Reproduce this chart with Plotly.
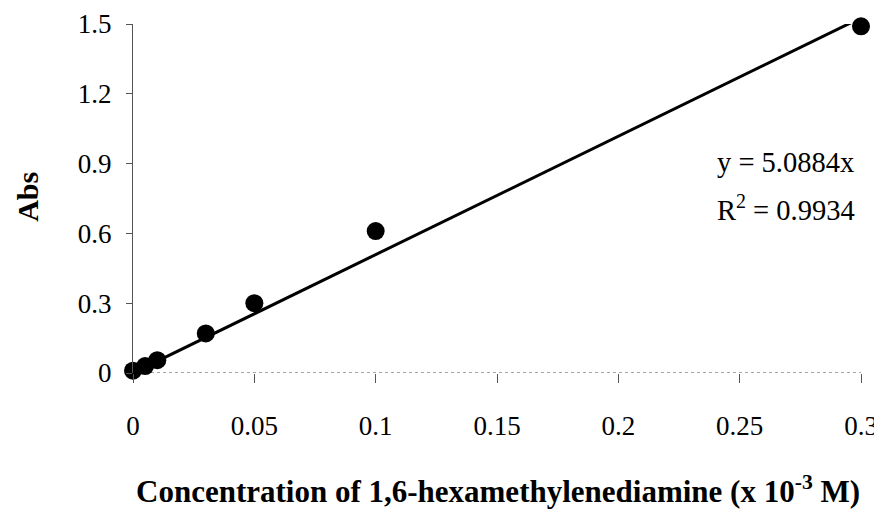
import plotly.graph_objects as go

# Data
conc = [0, 0.005, 0.01, 0.03, 0.05, 0.1, 0.3]
absorb = [0.01, 0.03, 0.055, 0.17, 0.30, 0.61, 1.49]
slope = 5.0884
r2 = 0.9934
x_ticks = [0, 0.05, 0.1, 0.15, 0.2, 0.25, 0.3]
x_tick_labels = ["0", "0.05", "0.1", "0.15", "0.2", "0.25", "0.3"]
y_ticks = [0, 0.3, 0.6, 0.9, 1.2, 1.5]
y_tick_labels = ["0", "0.3", "0.6", "0.9", "1.2", "1.5"]

fit_x = [0, max(conc)]
fit_y = [slope * v for v in fit_x]

FONT = "Liberation Serif"

fig = go.Figure()
fig.add_trace(go.Scatter(x=fit_x, y=fit_y, mode="lines",
                         line=dict(color="black", width=3), showlegend=False))
fig.add_trace(go.Scatter(x=conc, y=absorb, mode="markers", cliponaxis=False,
                         marker=dict(color="black", size=18), showlegend=False))

# faint dashed baseline at y = 0
fig.add_shape(type="line", xref="x", yref="y", x0=0, x1=0.3, y0=0, y1=0,
              line=dict(color="#888888", width=1.5, dash="dot"), layer="below")

fig.update_layout(
    width=874, height=501,
    margin=dict(l=125, r=21, t=16, b=136),
    paper_bgcolor="white", plot_bgcolor="white",
    font=dict(family=FONT, color="black", size=27),
    xaxis=dict(range=[0, 0.3], tickvals=x_ticks, ticktext=x_tick_labels,
               showgrid=False, zeroline=False, showline=False, automargin=False,
               ticks="outside", ticklen=9, tickcolor="#555555", tickwidth=1,
               ticklabelstandoff=20,
               tickfont=dict(family=FONT, size=27, color="black")),
    yaxis=dict(range=[0, 1.5], tickvals=y_ticks, ticktext=y_tick_labels,
               showgrid=False, zeroline=False, showline=True, automargin=False,
               linecolor="#555555", linewidth=1,
               ticks="outside", ticklen=6, tickcolor="#555555", tickwidth=1,
               ticklabelstandoff=9,
               tickfont=dict(family=FONT, size=27, color="black")),
)

fig.add_annotation(text="<b>Abs</b>", xref="paper", yref="paper",
                   x=-0.146, y=0.504, textangle=-90, showarrow=False,
                   xanchor="center", yanchor="middle",
                   font=dict(family=FONT, size=30, color="black"))
fig.add_annotation(text="<b>Concentration of 1,6-hexamethylenediamine (x 10<sup>-3</sup> M)</b>",
                   xref="paper", yref="paper", x=0.502, y=-0.333, showarrow=False,
                   xanchor="center", yanchor="middle",
                   font=dict(family=FONT, size=31, color="black"))
fig.add_annotation(text=f"y = {slope}x", xref="paper", yref="paper",
                   x=0.799, y=0.602, showarrow=False, xanchor="left", yanchor="middle",
                   font=dict(family=FONT, size=28.5, color="black"))
fig.add_annotation(text=f"R<sup>2</sup> = {r2}", xref="paper", yref="paper",
                   x=0.799, y=0.473, showarrow=False, xanchor="left", yanchor="middle",
                   font=dict(family=FONT, size=28.5, color="black"))

fig.write_html("out.html")
